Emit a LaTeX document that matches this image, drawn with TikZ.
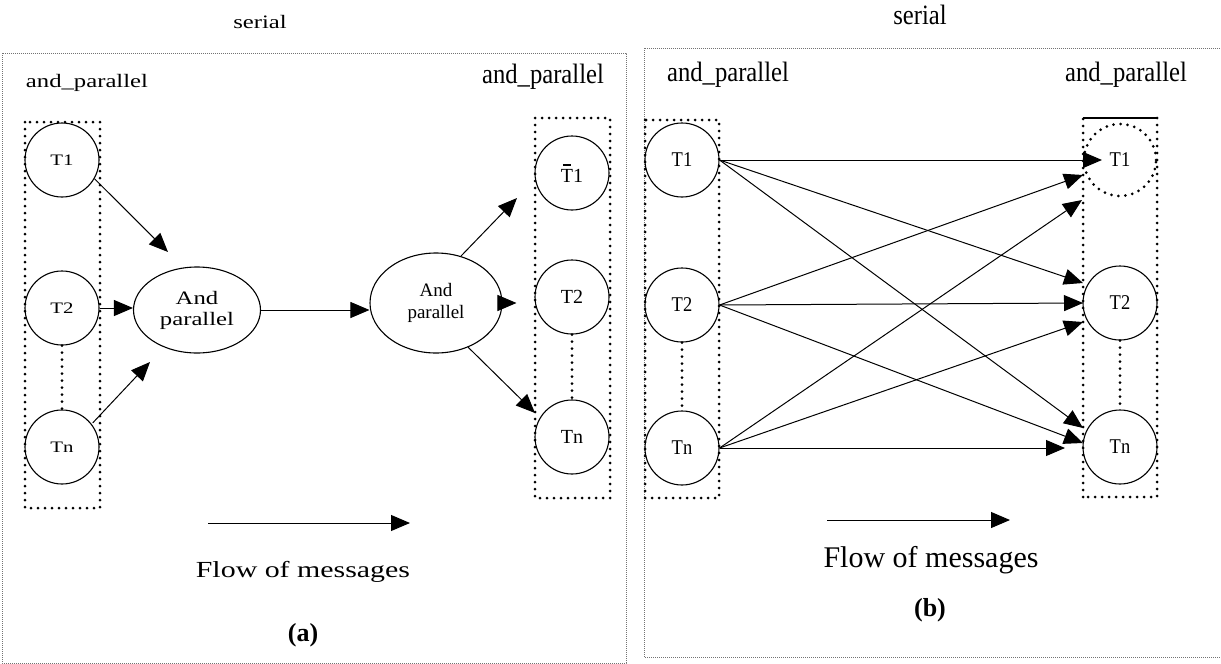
\documentclass[tikz,border=0pt]{standalone}
\usepackage{fontspec}
\setmainfont{Liberation Serif}
\newfontfamily\wfont[FakeStretch=1.3]{Liberation Serif}
\newfontfamily\cfont[FakeStretch=0.88]{Liberation Serif}
\usetikzlibrary{arrows.meta,shapes.geometric}
\begin{document}
\begin{tikzpicture}[x=1pt,y=-1pt,
  frame/.style={draw=black!55, line width=0.7pt, dash pattern=on 0.7pt off 1.3pt},
  dotbox/.style={draw, line width=3pt, line cap=round, dash pattern=on 0pt off 7pt},
  task/.style={circle, draw, line width=1.1pt, minimum size=74pt, inner sep=0pt},
  dottask/.style={circle, minimum size=74pt, inner sep=0pt},
  andnode/.style={ellipse, draw, line width=1.1pt, inner sep=0pt, align=center},
  msg/.style={line width=1pt, -{Triangle[length=19pt,width=16pt]}},
  lfont/.style={font=\wfont\fontsize{19}{24}\selectfont},
  lsmall/.style={font=\wfont\fontsize{16}{20}\selectfont},
  rfont/.style={font=\cfont\fontsize{28}{32}\selectfont},
  rsmall/.style={font=\cfont\fontsize{21}{24}\selectfont},
]
\useasboundingbox (0,0) rectangle (1221,664);

% ---------- panel frames ----------
\draw[frame] (2,53) rectangle (626,663);
\draw[frame] (644,48) rectangle (1222,657);

\node[lfont] (serA) at (260,22) {serial};
\node[rfont] (serB) at (920,15) {serial};

% ================= panel (a) =================
\node[lfont] (apA1) at (87,83) {and\_parallel};
\node[rfont] (apA2) at (543,77) {and\_parallel};

\draw[dotbox] (25,122) rectangle (100,508);
\draw[dotbox] (535,118) rectangle (610,498);

\node[task, lsmall] (lT1) at (62,160) {T1};
\node[task, lsmall] (lT2) at (62,308) {T2};
\node[task, lsmall] (lTn) at (62,447) {Tn};
\draw[dotbox] (lT2.south) -- (lTn.north);

\node[andnode, font=\wfont\fontsize{19}{24}\selectfont, minimum width=127pt, minimum height=86pt] (e1) at (197,310) {And\\[-3pt]parallel};
\node[andnode, font=\fontsize{19}{24}\selectfont, minimum width=132pt, minimum height=100pt] (e2) at (436,303) {And\\[-2pt]parallel};

\node[task, font=\fontsize{20}{24}\selectfont] (lbT1) at (572,173) {\makebox[0pt][l]{\hspace{0.1em}\rule[0.82em]{0.4em}{1.8pt}}T1};
\node[task, font=\fontsize{20}{24}\selectfont] (lbT2) at (572,297) {T2};
\node[task, font=\fontsize{20}{24}\selectfont] (lbTn) at (572,437) {Tn};
\draw[dotbox] (lbT2.south) -- (lbTn.north);

\coordinate (inA1) at (168,252);
\coordinate (inAn) at (150,362);
\coordinate (outA1) at (517,198);
\coordinate (outAn) at (535,413);

\draw[msg] (lT1.-30) -- (inA1);
\draw[msg] (lT2.east) -- (lT2.east -| e1.west);
\draw[msg] ([xshift=2pt]lTn.40) -- (inAn);
\draw[msg] (e1.east) -- (e1.east -| e2.west);
\draw[msg] (e2.62) -- (outA1);
\draw[msg, shorten <=-3pt, shorten >=18pt] (e2.east) -- (e2.east -| lbT2.west);
\draw[msg] (e2.-54) -- (outAn);

\coordinate (flA1) at (208,523);
\coordinate (flA2) at (410,523);
\draw[msg] (flA1) -- (flA2);
\node[font=\wfont\fontsize{23}{28}\selectfont] (flowA) at (303,572) {Flow of messages};
\node[font=\bfseries\fontsize{26}{30}\selectfont] (capA) at (303,635) {(a)};

% ================= panel (b) =================
\node[rfont] (apB1) at (728,75) {and\_parallel};
\node[rfont] (apB2) at (1126,75) {and\_parallel};

\draw[dotbox] (645,120) rectangle (719,498);
\draw[dotbox] (1083,497) -- (1083,118);
\draw[dotbox] (1157,118) -- (1157,497) -- (1083,497);
\draw[line width=1.2pt] (1083,118) -- (1157,118);

\node[task, rsmall] (rT1) at (682,160) {T1};
\node[task, rsmall] (rT2) at (682,305) {T2};
\node[task, rsmall] (rTn) at (682,448) {Tn};
\draw[dotbox] (rT2.south) -- (rTn.north);

\node[dottask, rsmall] (rbT1) at (1120,160) {T1};
\draw[dotbox] (rbT1.center) circle[radius=36pt];
\node[task, rsmall] (rbT2) at (1120,303) {T2};
\node[task, rsmall] (rbTn) at (1120,447) {Tn};
\draw[dotbox] (rbT2.south) -- (rbTn.north);

% arrow ends along the receiving column
\coordinate (p11) at (1102,160);
\coordinate (p12) at (1083,283);
\coordinate (p1n) at (1083,428);
\coordinate (p21) at (1083,175);
\coordinate (p22) at (1083,303);
\coordinate (p2n) at (1083,443);
\coordinate (pn1) at (1082,200);
\coordinate (pn2) at (1083,322);
\coordinate (pnn) at (1065,448);

\draw[msg] (rT1.east) -- (p11);
\draw[msg] (rT1.east) -- (p12);
\draw[msg] (rT1.east) -- (p1n);
\draw[msg] (rT2.east) -- (p21);
\draw[msg] (rT2.east) -- (p22);
\draw[msg] (rT2.east) -- (p2n);
\draw[msg] (rTn.east) -- (pn1);
\draw[msg] (rTn.east) -- (pn2);
\draw[msg] (rTn.east) -- (pnn);

\coordinate (flB1) at (827,520);
\coordinate (flB2) at (1010,520);
\draw[msg] (flB1) -- (flB2);
\node[font=\fontsize{30}{34}\selectfont] (flowB) at (931,560) {Flow of messages};
\node[font=\bfseries\fontsize{26}{30}\selectfont] (capB) at (930,610) {(b)};
\end{tikzpicture}
\end{document}
